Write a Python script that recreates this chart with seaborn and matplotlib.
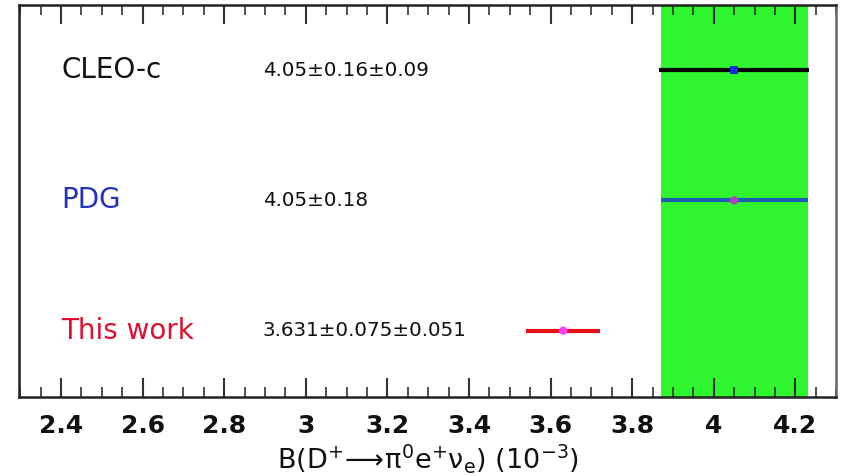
import matplotlib
matplotlib.use("Agg")
import matplotlib.pyplot as plt
import seaborn as sns
import pandas as pd
from matplotlib.ticker import MultipleLocator

labels = ["CLEO-c", "PDG", "This work"]
label_colors = ["#111111", "#2233bb", "#dd1030"]
values = [4.05, 4.05, 3.631]
errors = [0.1836, 0.18, 0.0907]
value_texts = ["4.05\u00b10.16\u00b10.09", "4.05\u00b10.18", "3.631\u00b10.075\u00b10.051"]
bar_colors = ["#000000", "#1f5fb0", "#e8101a"]
marker_colors = ["#1030d0", "#b040c0", "#ff40ff"]
marker_shapes = ["s", "o", "o"]
rows = [3, 2, 1]
band_center = 4.05
band_halfwidth = 0.18
xticks = [2.4, 2.6, 2.8, 3.0, 3.2, 3.4, 3.6, 3.8, 4.0, 4.2]
xtick_labels = ["2.4", "2.6", "2.8", "3", "3.2", "3.4", "3.6", "3.8", "4", "4.2"]

df = pd.DataFrame({"label": labels, "value": values, "err": errors, "row": rows})

sns.set_style("ticks")
plt.rcParams["font.family"] = ["DejaVu Sans"]
plt.rcParams["mathtext.fontset"] = "dejavusans"

fig = plt.figure(figsize=(8.42, 4.76), dpi=100)
ax = fig.add_axes([0.0226, 0.166, 0.9704, 0.823])

ax.axvspan(band_center - band_halfwidth, band_center + band_halfwidth,
           color="#2ef52e", zorder=0, lw=0)

for i, r in df.iterrows():
    ax.errorbar(r["value"], r["row"], xerr=r["err"], fmt="none",
                ecolor=bar_colors[i], elinewidth=3, capsize=0, zorder=2)

sns.scatterplot(data=df, x="value", y="row", hue="label", style="label",
                palette=dict(zip(labels, marker_colors)),
                markers=dict(zip(labels, marker_shapes)),
                s=36, edgecolor="none", legend=False, ax=ax, zorder=3)

for i, r in df.iterrows():
    ax.text(2.40, r["row"], labels[i], color=label_colors[i], fontsize=20,
            va="center", ha="left")
    ax.text(2.895, r["row"], value_texts[i], color="#111111", fontsize=14.3,
            va="center", ha="left")

ax.set_xlim(2.297, 4.30)
ax.set_ylim(0.49, 3.5)
ax.set_xticks(xticks)
ax.set_xticklabels(xtick_labels, fontsize=18, fontweight="bold", color="#111111")
ax.xaxis.set_minor_locator(MultipleLocator(0.05))
ax.set_yticks([])
ax.tick_params(axis="x", which="major", direction="in", length=14, width=1.5,
               top=True, pad=12, color="#333333")
ax.tick_params(axis="x", which="minor", direction="in", length=7, width=1.2,
               top=True, color="#333333")
ax.set_xlabel(r"B(D$^{+}\!\longrightarrow\!\mathrm{\pi}^{0}$e$^{+}\mathrm{\nu}_{\mathrm{e}}$) (10$^{-3}$)",
              fontsize=19.5, labelpad=3, color="#111111")
ax.set_ylabel("")
for s in ax.spines.values():
    s.set_linewidth(1.8)
    s.set_color("#222222")
ax.spines["right"].set_color("#666666")

fig.savefig("out.png", dpi=100)
